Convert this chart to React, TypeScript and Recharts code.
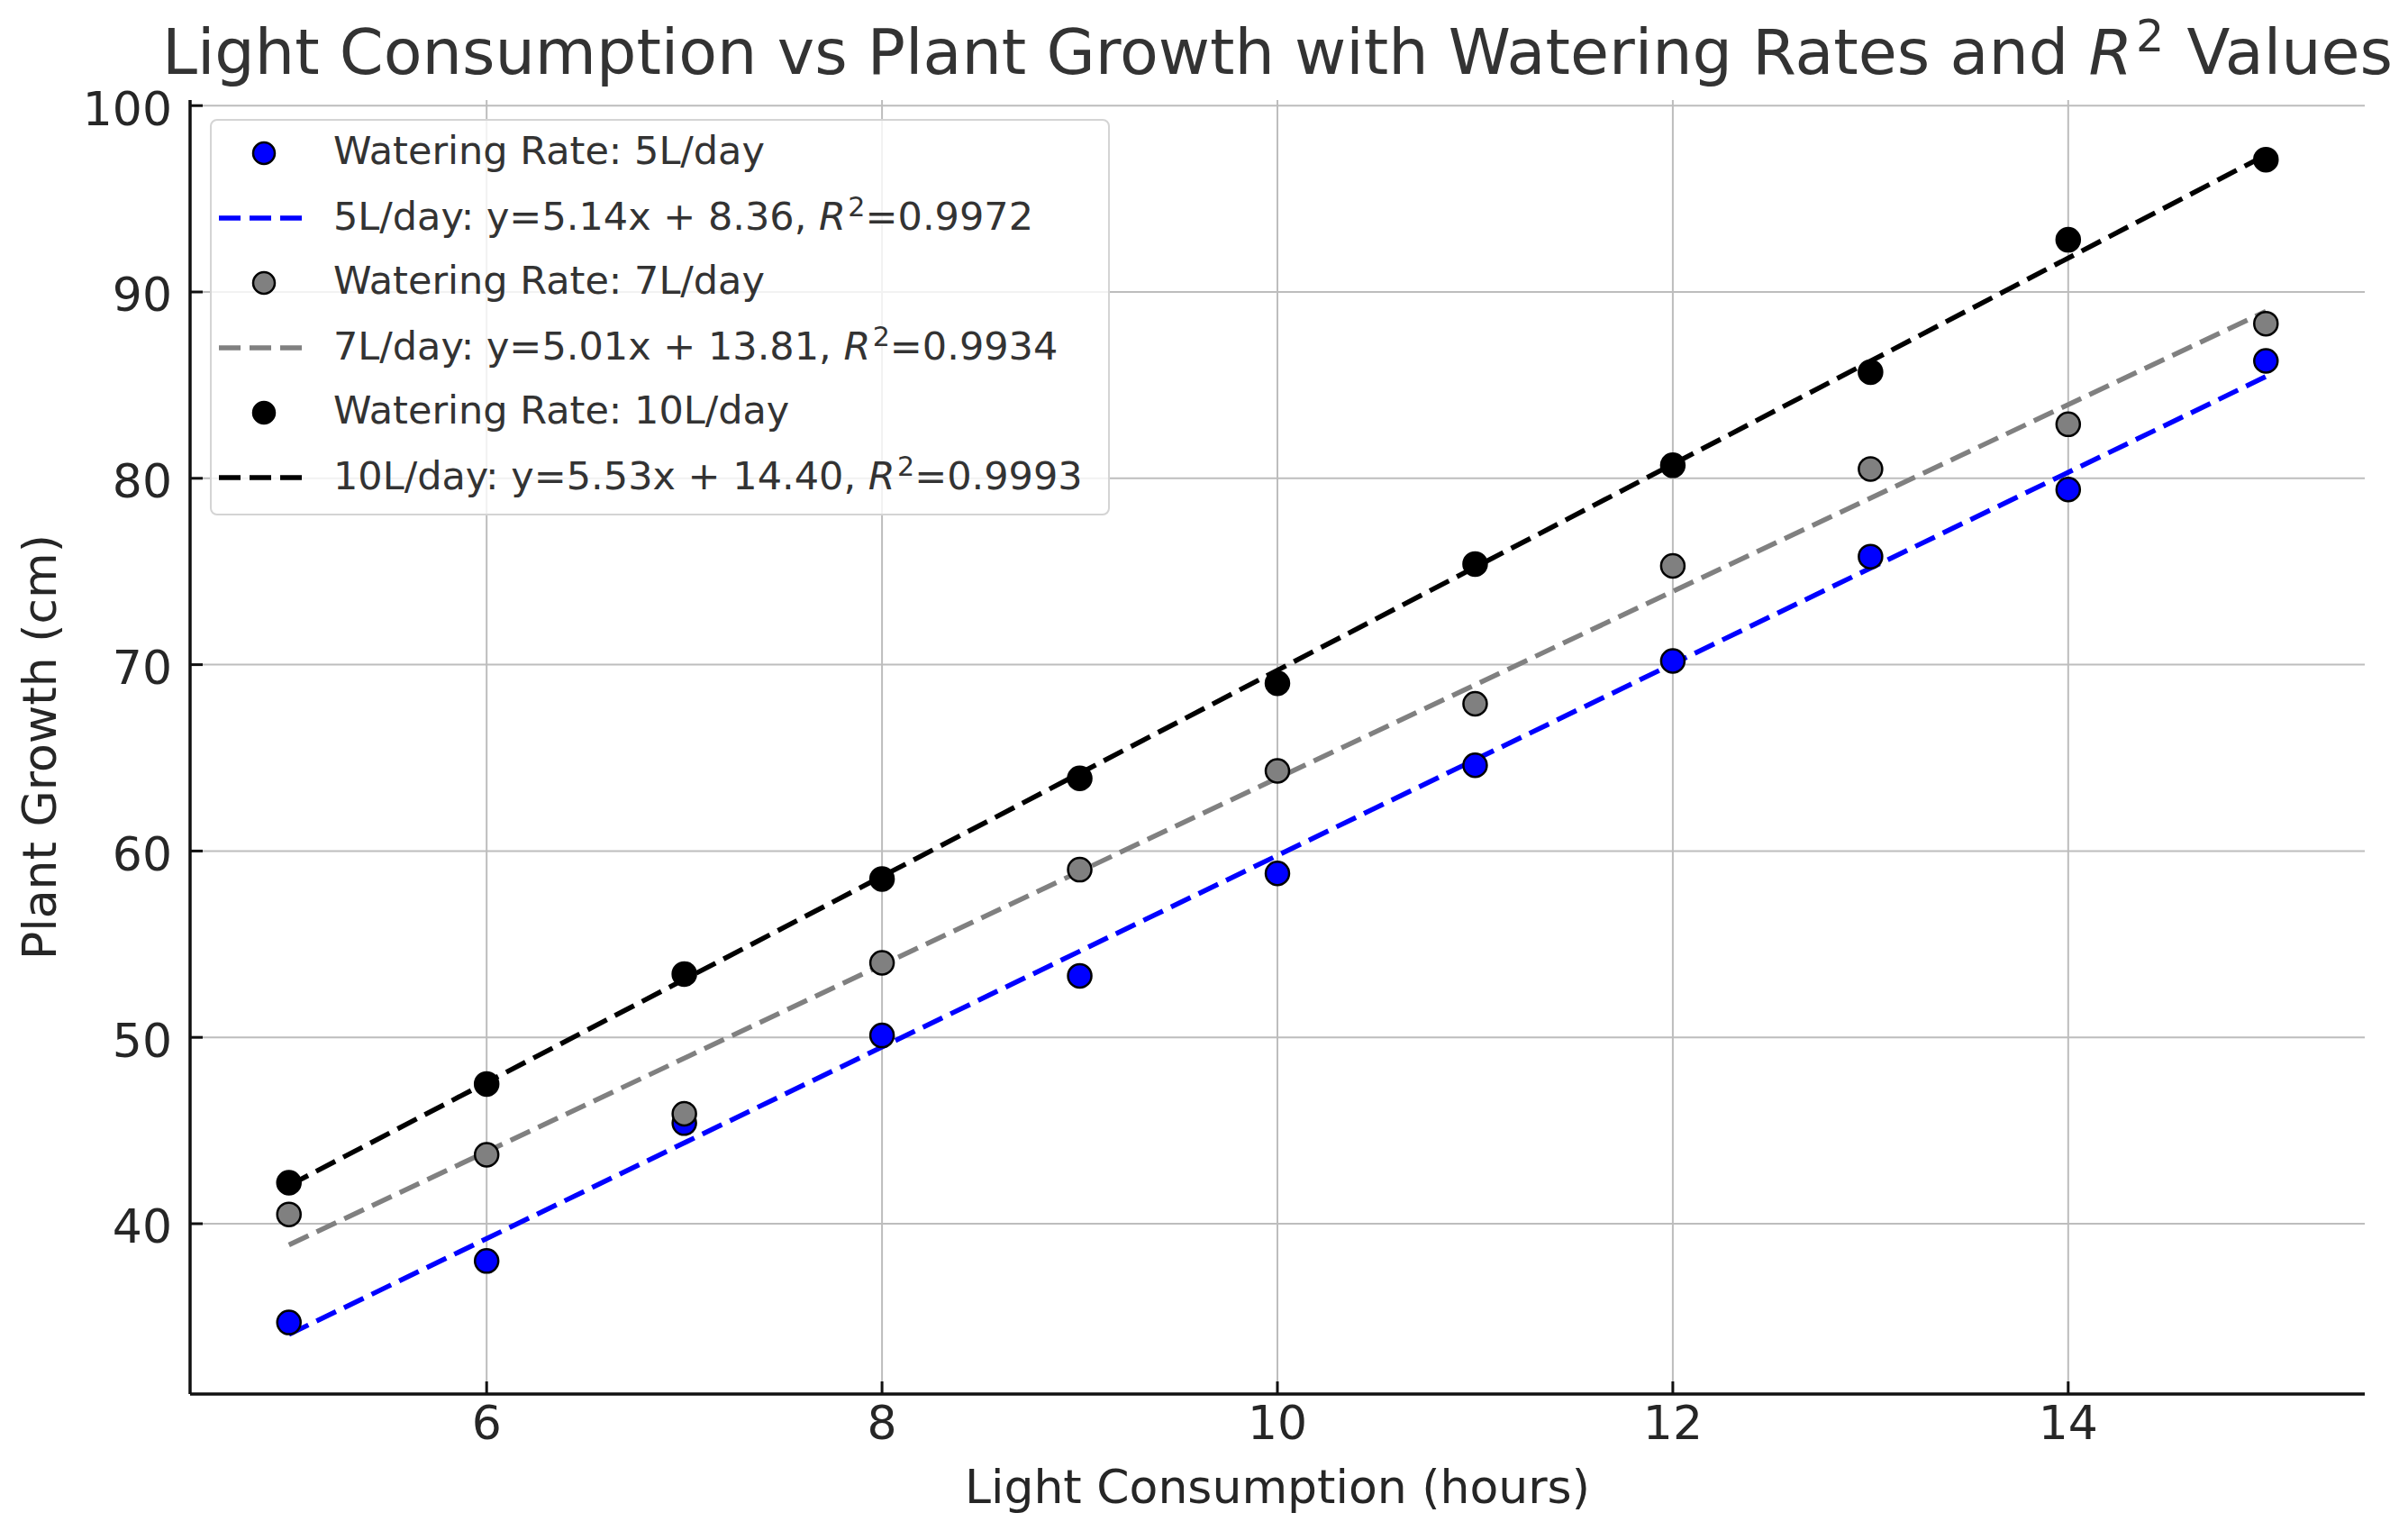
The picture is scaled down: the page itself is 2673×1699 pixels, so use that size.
import React from "react";
import { CartesianGrid, ComposedChart, Legend, Line, Scatter, XAxis, YAxis } from "recharts";

// Light hours on x, growth in cm on y — one series per watering rate.
const hours = [5, 6, 7, 8, 9, 10, 11, 12, 13, 14, 15];

const growth5 = [34.7, 38.0, 45.4, 50.1, 53.3, 58.8, 64.6, 70.2, 75.8, 79.4, 86.3];
const growth7 = [40.5, 43.7, 45.9, 54.0, 59.0, 64.3, 67.9, 75.3, 80.5, 82.9, 88.3];
const growth10 = [42.2, 47.5, 53.4, 58.5, 63.9, 69.0, 75.4, 80.7, 85.7, 92.8, 97.1];

// Fit lines: value at x=5 and at x=15.
const fitStart = [34.06, 38.86, 42.05];
const fitEnd = [85.46, 88.96, 97.35];

const rates = ["5L/day", "7L/day", "10L/day"];
const slopes = ["5.14", "5.01", "5.53"];
const intercepts = ["8.36", "13.81", "14.40"];
const r2s = ["0.9972", "0.9934", "0.9993"];
const colors = ["#0000ff", "#808080", "#000000"];

const xTicks = [6, 8, 10, 12, 14];
const yTicks = [40, 50, 60, 70, 80, 90, 100];

const FONT = "'DejaVu Sans', sans-serif";
const INK = "#262626";

const series = [growth5, growth7, growth10].map((g) => hours.map((x, i) => ({ x, y: g[i] })));
const fits = fitStart.map((y0, i) => [
  { x: hours[0], y: y0 },
  { x: hours[hours.length - 1], y: fitEnd[i] },
]);

const R2 = () => (
  <>
    <i>R</i>
    <span style={{ fontSize: "0.7em", verticalAlign: "0.5em", marginLeft: "0.08em" }}>2</span>
  </>
);

function LegendBox() {
  const rows: { kind: "dot" | "line"; i: number; text: React.ReactNode }[] = [];
  rates.forEach((r, i) => {
    rows.push({ kind: "dot", i, text: `Watering Rate: ${r}` });
    rows.push({
      kind: "line",
      i,
      text: (
        <>
          {`${r}: y=${slopes[i]}x + ${intercepts[i]}, `}
          <R2 />
          {`=${r2s[i]}`}
        </>
      ),
    });
  });
  return (
    <div
      style={{
        boxSizing: "border-box",
        width: 999,
        height: 440,
        paddingTop: 0,
        background: "rgba(255,255,255,0.8)",
        border: "2px solid #d4d4d4",
        borderRadius: 8,
        fontFamily: FONT,
        fontSize: 43,
        color: "#333",
      }}
    >
      {rows.map((row, k) => (
        <div key={k} style={{ height: 72, display: "flex", alignItems: "center", paddingLeft: 8 }}>
          <svg width={100} height={30} style={{ flex: "none" }}>
            {row.kind === "dot" ? (
              <circle cx={50} cy={15} r={12} fill={colors[row.i]} stroke="#000" strokeWidth={2.5} />
            ) : (
              <line x1={0} x2={100} y1={15} y2={15} stroke={colors[row.i]} strokeWidth={5.5} strokeDasharray="24 10" />
            )}
          </svg>
          <span style={{ marginLeft: 27, whiteSpace: "nowrap", position: "relative", top: -3 }}>{row.text}</span>
        </div>
      ))}
    </div>
  );
}

export default function App() {
  return (
    <div style={{ position: "relative", width: 2673, height: 1699, background: "#fff", overflow: "hidden" }}>
      <style>{"body{margin:0}"}</style>
      <div
        style={{
          position: "absolute",
          left: 1418,
          top: 6,
          transform: "translateX(-50%)",
          fontFamily: FONT,
          fontSize: 70,
          lineHeight: "70px",
          color: "#333",
          whiteSpace: "nowrap",
        }}
      >
        Light Consumption vs Plant Growth with Watering Rates and <R2 />
        <span style={{ marginLeft: "0.36em" }}>Values</span>
      </div>
      <ComposedChart width={2673} height={1699} margin={{ top: 111, right: 48, bottom: 0, left: 0 }}>
        <CartesianGrid stroke="#bdbdbd" strokeWidth={2} horizontalValues={yTicks} verticalValues={xTicks} />
        <XAxis
          type="number"
          dataKey="x"
          domain={[4.5, 15.5]}
          ticks={xTicks}
          height={152}
          axisLine={{ stroke: "#111", strokeWidth: 3.5 }}
          tickLine={{ stroke: "#111", strokeWidth: 3 }}
          tickSize={-14}
          tickMargin={27}
          tick={{ fill: INK, fontSize: 52, fontFamily: FONT }}
          label={{
            content: ({ viewBox }: any) => (
              <text
                x={viewBox.x + viewBox.width / 2}
                y={viewBox.y + 121}
                textAnchor="middle"
                fill={INK}
                fontSize={52}
                fontFamily={FONT}
              >
                Light Consumption (hours)
              </text>
            ),
          }}
        />
        <YAxis
          type="number"
          dataKey="y"
          domain={[30.86, 100.3]}
          ticks={yTicks}
          width={211}
          allowDataOverflow
          axisLine={{ stroke: "#111", strokeWidth: 3.5 }}
          tickLine={{ stroke: "#111", strokeWidth: 3 }}
          tickSize={-14}
          tickMargin={34}
          tick={{ fill: INK, fontSize: 52, fontFamily: FONT, dy: 3 }}
          label={{
            content: ({ viewBox }: any) => {
              const cx = viewBox.x + 62;
              const cy = viewBox.y + viewBox.height / 2;
              return (
                <text
                  x={cx}
                  y={cy}
                  transform={`rotate(-90, ${cx}, ${cy})`}
                  textAnchor="middle"
                  fill={INK}
                  fontSize={52}
                  fontFamily={FONT}
                >
                  Plant Growth (cm)
                </text>
              );
            },
          }}
        />
        {series.map((data, i) => (
          <Scatter
            key={`s${i}`}
            name={`Watering Rate: ${rates[i]}`}
            data={data}
            isAnimationActive={false}
            shape={(p: any) => (
              <circle cx={p.cx} cy={p.cy} r={13} fill={colors[i]} stroke="#000" strokeWidth={2.5} />
            )}
          />
        ))}
        {fits.map((data, i) => (
          <Line
            key={`l${i}`}
            name={`${rates[i]} fit`}
            data={data}
            dataKey="y"
            type="linear"
            stroke={colors[i]}
            strokeWidth={5.5}
            strokeDasharray="24 10"
            dot={false}
            activeDot={false}
            isAnimationActive={false}
          />
        ))}
        <Legend
          layout="vertical"
          align="center"
          verticalAlign="middle"
          wrapperStyle={{ left: 233, top: 132, width: 999, height: 440 }}
          content={() => <LegendBox />}
        />
      </ComposedChart>
    </div>
  );
}
